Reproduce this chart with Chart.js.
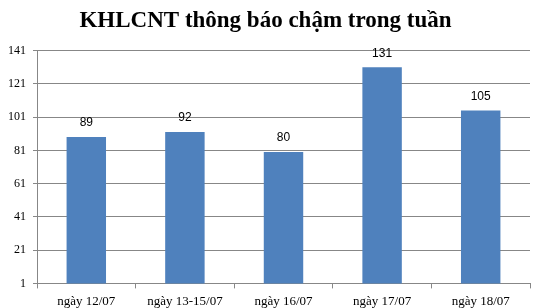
<!DOCTYPE html>
<html>
<head>
<meta charset="utf-8">
<script src="https://cdn.jsdelivr.net/npm/chart.js@4"></script>
<style>
  html, body { margin: 0; padding: 0; background: #fff; }
  #wrap { width: 538px; height: 308px; }
</style>
</head>
<body>
<div id="wrap"><canvas id="chart01" width="538" height="308"></canvas></div>
<script>
const categories = ['ngày 12/07', 'ngày 13-15/07', 'ngày 16/07', 'ngày 17/07', 'ngày 18/07']
const values = [89, 92, 80, 131, 105]
const tickLabels = [1, 21, 41, 61, 81, 101, 121, 141]

// draws the value above each bar
const valueLabels = {
    id: 'valueLabels',
    afterDatasetsDraw(chart) {
        const ctx = chart.ctx
        ctx.save()
        ctx.font = '12px "Liberation Sans", Arial, sans-serif'
        ctx.fillStyle = '#000'
        ctx.textAlign = 'center'
        ctx.textBaseline = 'middle'
        chart.getDatasetMeta(0).data.forEach((bar, i) => {
            ctx.fillText(String(values[i]), bar.x, bar.y - 14)
        })
        ctx.restore()
    }
}

const ctx01 = document.getElementById('chart01').getContext('2d')
const myChart = new Chart(ctx01, {
    type: 'bar',
    data: {
        labels: categories,
        datasets: [{
            data: values,
            backgroundColor: '#4F81BD',
            borderWidth: 0,
            barPercentage: 0.4,
            categoryPercentage: 1
        }]
    },
    options: {
        responsive: false,
        animation: false,
        layout: { padding: { left: 1, right: 8, top: 3, bottom: -6 } },
        plugins: {
            legend: { display: false },
            tooltip: { enabled: false },
            title: {
                display: true,
                text: 'KHLCNT thông báo chậm trong tuần',
                color: '#000',
                font: { family: '"Liberation Serif", "Times New Roman", serif', size: 23, weight: 'bold' },
                padding: { top: 4, bottom: 16 }
            }
        },
        scales: {
            x: {
                grid: {
                    offset: true,
                    drawOnChartArea: false,
                    drawTicks: true,
                    tickLength: 5,
                    color: '#878787'
                },
                border: { color: '#878787' },
                ticks: {
                    color: '#000',
                    padding: 5,
                    maxRotation: 0,
                    font: { family: '"Liberation Serif", "Times New Roman", serif', size: 13 }
                }
            },
            y: {
                min: 1,
                max: 141,
                afterBuildTicks(axis) {
                    axis.ticks = tickLabels.map(v => ({ value: v }))
                },
                grid: {
                    color: '#878787',
                    tickLength: 4
                },
                border: { color: '#878787' },
                ticks: {
                    color: '#000',
                    padding: 7,
                    font: { family: '"Liberation Serif", "Times New Roman", serif', size: 12 }
                }
            }
        }
    },
    plugins: [valueLabels]
});
</script>
</body>
</html>
